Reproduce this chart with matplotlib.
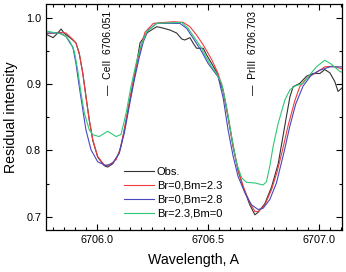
"""Residual intensity profiles around 6706 A: observed spectrum vs. models."""
import matplotlib
matplotlib.use("Agg")
import matplotlib.pyplot as plt
from matplotlib.ticker import MultipleLocator

plt.rcParams["font.family"] = ["Liberation Sans", "DejaVu Sans"]

# Obs.
obs_x = [6705.770, 6705.790, 6705.802, 6705.820, 6705.838, 6705.851, 6705.878,
         6705.892, 6705.905, 6705.920, 6705.936, 6705.950, 6705.965, 6705.981,
         6706.003, 6706.033, 6706.048, 6706.071, 6706.100, 6706.123, 6706.145,
         6706.168, 6706.194, 6706.224, 6706.269, 6706.291, 6706.329, 6706.359,
         6706.382, 6706.396, 6706.419, 6706.434, 6706.449, 6706.479, 6706.494,
         6706.517, 6706.541, 6706.569, 6706.591, 6706.614, 6706.636, 6706.659,
         6706.689, 6706.712, 6706.727, 6706.757, 6706.787, 6706.817, 6706.830,
         6706.854, 6706.870, 6706.884, 6706.914, 6706.945, 6706.974, 6707.005,
         6707.027, 6707.050, 6707.072, 6707.087, 6707.104]
obs_y = [0.975, 0.972, 0.970, 0.976, 0.983, 0.977, 0.970,
         0.966, 0.962, 0.946, 0.916, 0.882, 0.846, 0.815,
         0.790, 0.777, 0.775, 0.780, 0.796, 0.830, 0.870,
         0.910, 0.962, 0.977, 0.9865, 0.985, 0.9815, 0.977,
         0.968, 0.9665, 0.970, 0.9615, 0.954, 0.954, 0.944,
         0.931, 0.917, 0.889, 0.850, 0.805, 0.770, 0.745,
         0.718, 0.703, 0.707, 0.720, 0.745, 0.780, 0.805,
         0.851, 0.881, 0.896, 0.901, 0.912, 0.916, 0.916,
         0.922, 0.917, 0.904, 0.889, 0.894]

# Br=0, Bm=2.3
red_x = [6705.770, 6705.833, 6705.860, 6705.889, 6705.905, 6705.920, 6705.936,
         6705.950, 6705.965, 6705.981, 6706.003, 6706.033, 6706.055, 6706.086,
         6706.108, 6706.131, 6706.153, 6706.176, 6706.198, 6706.216, 6706.254,
         6706.344, 6706.389, 6706.419, 6706.449, 6706.479, 6706.517, 6706.546,
         6706.569, 6706.591, 6706.614, 6706.636, 6706.659, 6706.689, 6706.712,
         6706.727, 6706.757, 6706.787, 6706.812, 6706.836, 6706.862, 6706.892,
         6706.914, 6706.945, 6706.982, 6707.027, 6707.065, 6707.104]
red_y = [0.976, 0.978, 0.977, 0.968, 0.962, 0.946, 0.916,
         0.881, 0.846, 0.816, 0.791, 0.778, 0.778, 0.786,
         0.806, 0.846, 0.886, 0.926, 0.956, 0.978, 0.9915,
         0.994, 0.993, 0.9865, 0.974, 0.959, 0.937, 0.916,
         0.891, 0.851, 0.806, 0.771, 0.746, 0.721, 0.708,
         0.708, 0.718, 0.741, 0.768, 0.800, 0.838, 0.875,
         0.896, 0.909, 0.916, 0.926, 0.927, 0.923]

# Br=0, Bm=2.8
blue_x = [6705.770, 6705.833, 6705.860, 6705.878, 6705.891, 6705.905, 6705.920,
          6705.936, 6705.950, 6705.973, 6706.003, 6706.041, 6706.071, 6706.100,
          6706.123, 6706.145, 6706.168, 6706.191, 6706.209, 6706.231, 6706.269,
          6706.374, 6706.404, 6706.434, 6706.472, 6706.501, 6706.546, 6706.569,
          6706.591, 6706.614, 6706.636, 6706.667, 6706.697, 6706.727, 6706.749,
          6706.779, 6706.809, 6706.845, 6706.869, 6706.896, 6706.929, 6706.967,
          6707.005, 6707.050, 6707.104]
blue_y = [0.977, 0.977, 0.972, 0.962, 0.956, 0.931, 0.896,
          0.861, 0.831, 0.801, 0.783, 0.777, 0.781, 0.796,
          0.826, 0.866, 0.906, 0.941, 0.964, 0.9815, 0.9915,
          0.9915, 0.984, 0.969, 0.949, 0.931, 0.911, 0.879,
          0.831, 0.791, 0.761, 0.736, 0.718, 0.711, 0.713,
          0.726, 0.751, 0.800, 0.836, 0.870, 0.897, 0.914,
          0.921, 0.926, 0.926]

# Br=2.3, Bm=0
green_x = [6705.770, 6705.833, 6705.860, 6705.878, 6705.898, 6705.913, 6705.928,
           6705.943, 6705.965, 6705.981, 6705.988, 6706.010, 6706.048, 6706.086,
           6706.108, 6706.131, 6706.153, 6706.176, 6706.194, 6706.224, 6706.269,
           6706.382, 6706.411, 6706.441, 6706.472, 6706.486, 6706.517, 6706.539,
           6706.562, 6706.584, 6706.607, 6706.629, 6706.652, 6706.674, 6706.712,
           6706.749, 6706.764, 6706.779, 6706.794, 6706.817, 6706.847, 6706.869,
           6706.892, 6706.929, 6706.959, 6706.989, 6707.027, 6707.057, 6707.095,
           6707.104]
green_y = [0.980, 0.976, 0.972, 0.964, 0.949, 0.921, 0.886,
           0.856, 0.831, 0.824, 0.823, 0.821, 0.829, 0.821,
           0.824, 0.856, 0.896, 0.931, 0.954, 0.979, 0.9915,
           0.993, 0.984, 0.969, 0.954, 0.944, 0.926, 0.916,
           0.901, 0.866, 0.821, 0.781, 0.759, 0.752, 0.751,
           0.748, 0.753, 0.776, 0.806, 0.841, 0.876, 0.891,
           0.897, 0.901, 0.914, 0.926, 0.936, 0.930, 0.919,
           0.918]

lines = [("CeII", 6706.051), ("PrIII", 6706.703)]

fig = plt.figure(figsize=(3.46, 2.72), dpi=100)
ax = fig.add_axes([0.133, 0.154, 0.855, 0.831])

lw = 0.8
ax.plot(obs_x, obs_y, color="#333333", lw=lw, label="Obs.")
ax.plot(red_x, red_y, color="#f03c3c", lw=lw, label="Br=0,Bm=2.3")
ax.plot(blue_x, blue_y, color="#4848c0", lw=lw, label="Br=0,Bm=2.8")
ax.plot(green_x, green_y, color="#30c878", lw=lw, label="Br=2.3,Bm=0")

for name, wl in lines:
    ax.text(wl, 0.884, f"\u2014  {name}  {wl:.3f}", rotation=90,
            ha="center", va="bottom", fontsize=7.5)

ax.set_xlim(6705.77, 6707.104)
ax.set_ylim(0.680, 1.0206)
ax.xaxis.set_major_locator(MultipleLocator(0.5))
ax.xaxis.set_minor_locator(MultipleLocator(0.05))
ax.yaxis.set_major_locator(MultipleLocator(0.1))
ax.yaxis.set_minor_locator(MultipleLocator(0.05))
ax.xaxis.set_major_formatter(plt.FormatStrFormatter("%.1f"))
ax.yaxis.set_major_formatter(plt.FormatStrFormatter("%.1f"))
ax.tick_params(which="both", direction="in", top=True, right=True,
               labelsize=7.8, width=0.8)
ax.tick_params(which="major", length=4.5)
ax.tick_params(which="minor", length=2.5)
for s in ax.spines.values():
    s.set_linewidth(0.9)

ax.set_xlabel("Wavelength, A", fontsize=10.2, labelpad=6)
ax.set_ylabel("Residual intensity", fontsize=10.2, labelpad=6)

ax.legend(loc="upper left", bbox_to_anchor=(0.25, 0.30), frameon=False,
          fontsize=8, handlelength=2.7, handletextpad=0.2, labelspacing=0.35,
          borderaxespad=0)

fig.savefig("out.png", dpi=100)
